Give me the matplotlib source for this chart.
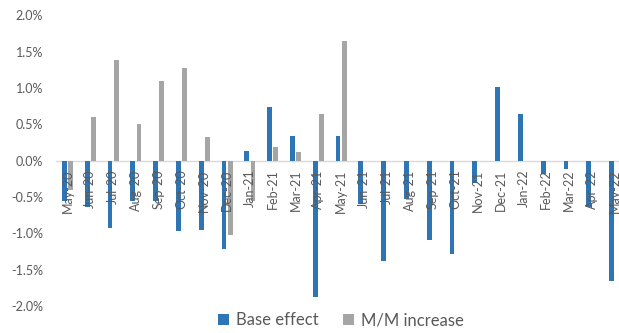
import numpy as np
import matplotlib
matplotlib.use("Agg")
import matplotlib.pyplot as plt
from matplotlib.patches import Patch
from matplotlib.ticker import FuncFormatter

plt.rcParams['font.family'] = ['Lato', 'DejaVu Sans']

months = ['May-20', 'Jun-20', 'Jul-20', 'Aug-20', 'Sep-20', 'Oct-20', 'Nov-20',
          'Dec-20', 'Jan-21', 'Feb-21', 'Mar-21', 'Apr-21', 'May-21', 'Jun-21',
          'Jul-21', 'Aug-21', 'Sep-21', 'Oct-21', 'Nov-21', 'Dec-21', 'Jan-22',
          'Feb-22', 'Mar-22', 'Apr-22', 'May-22']

# values in percent
base_effect = [-0.56, -0.63, -0.92, -0.56, -0.56, -0.97, -0.95, -1.21, 0.13, 0.74,
               0.335, -1.87, 0.335, -0.59, -1.38, -0.52, -1.09, -1.28, -0.31, 1.01,
               0.64, -0.18, -0.12, -0.63, -1.65]
mm_increase = [-0.40, 0.60, 1.38, 0.51, 1.10, 1.28, 0.32, -1.02, -0.55, 0.19,
               0.12, 0.64, 1.65, np.nan, np.nan, np.nan, np.nan, np.nan, np.nan,
               np.nan, np.nan, np.nan, np.nan, np.nan, np.nan]

blue = '#2E75B6'
grey = '#A5A5A5'
text_col = '#595959'

W, H = 619, 333
fig = plt.figure(figsize=(W / 100, H / 100), dpi=100)
ax = fig.add_axes([56.1 / W, 26.9 / H, 570 / W, 290.8 / H])

x = np.arange(len(months))
bw = 0.21
off = 0.14
ax.bar(x - off, base_effect, width=bw, color=blue, zorder=3)
ax.bar(x + off, mm_increase, width=bw, color=grey, zorder=3)

ax.axhline(0, color='#d9d9d9', lw=1, zorder=2)

ax.set_xlim(-0.5, len(months) - 0.5)
ax.set_ylim(-2.0, 2.0)
ax.set_yticks(np.arange(-2.0, 2.01, 0.5))
ax.yaxis.set_major_formatter(FuncFormatter(lambda v, p: f"{v:.1f}%"))
ax.tick_params(axis='y', length=0, pad=9.5, labelsize=9, labelcolor=text_col)
ax.set_xticks([])
for s in ax.spines.values():
    s.set_visible(False)

# category labels hang just under the zero line
for i, m in enumerate(months):
    ax.annotate(m, xy=(i, 0), xytext=(0, -6.5), textcoords='offset points',
                rotation=90, ha='center', va='top', fontsize=9,
                color=text_col, zorder=4)

handles = [Patch(facecolor=blue, label='Base effect'),
           Patch(facecolor=grey, label='M/M increase')]
fig.legend(handles=handles, loc='center', bbox_to_anchor=(341 / W, 13 / H),
           ncol=2, frameon=False, fontsize=12, labelcolor=text_col,
           handlelength=0.65, handleheight=0.65, handletextpad=0.4,
           columnspacing=1.5)

fig.savefig('out.png', dpi=100)
